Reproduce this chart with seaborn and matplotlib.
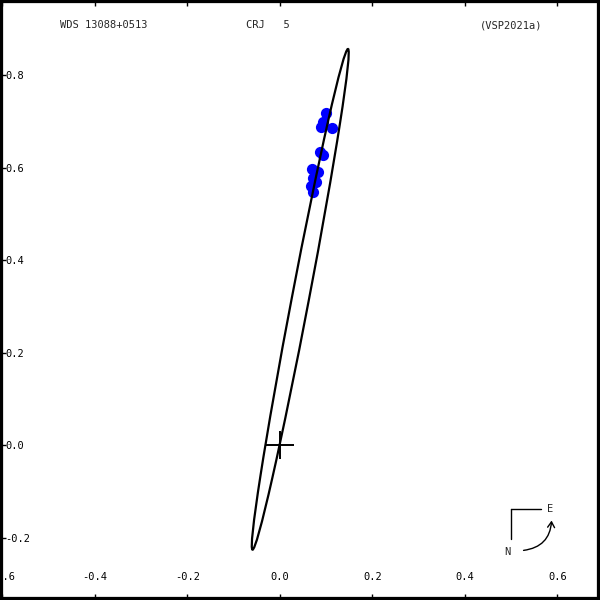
#!/usr/bin/env python3
"""Apparent orbit plot for WDS 13088+0513 (CRJ 5)."""

import matplotlib

matplotlib.use("Agg")
import matplotlib.pyplot as plt
import pandas as pd
import seaborn as sns
from matplotlib.patches import Ellipse, FancyArrowPatch

# observed positions (arcsec, relative to primary)
obs_x = [0.1005, 0.094, 0.1124, 0.0897, 0.0865, 0.094, 0.0692, 0.0811, 0.0724, 0.0681, 0.0724, 0.0789]
obs_y = [0.718, 0.698, 0.686, 0.688, 0.634, 0.627, 0.597, 0.590, 0.577, 0.560, 0.547, 0.569]

# apparent orbit ellipse
orbit_center = (0.0438, 0.315)
orbit_semi_major = 0.551
orbit_semi_minor = 0.0185
orbit_angle = 79.2

x_ticks = [-0.6, -0.4, -0.2, 0.0, 0.2, 0.4, 0.6]
y_ticks = [-0.2, 0.0, 0.2, 0.4, 0.6, 0.8]
x_limits = (-0.6054, 0.6919)
y_limits = (-0.3351, 0.9622)

title_left = "WDS 13088+0513"
title_mid = "CRJ   5"
title_right = "(VSP2021a)"

sns.set_style("white")
plt.rcParams["font.family"] = ["DejaVu Sans Mono", "DejaVu Sans"]
plt.rcParams["axes.unicode_minus"] = False

fig = plt.figure(figsize=(6, 6), dpi=100)
ax = fig.add_axes([0, 0, 1, 1])

df = pd.DataFrame({"x": obs_x, "y": obs_y})
sns.scatterplot(data=df, x="x", y="y", ax=ax, color="#0000ff", s=65,
                edgecolor="#0000ff", linewidth=0, zorder=2)

ax.add_patch(Ellipse(orbit_center, 2 * orbit_semi_major, 2 * orbit_semi_minor,
                     angle=orbit_angle, fill=False, edgecolor="black", linewidth=1.6, zorder=3))
ax.plot([0], [0], marker="+", markersize=20, markeredgewidth=1.4, color="black", zorder=4)

ax.set_xlim(*x_limits)
ax.set_ylim(*y_limits)
ax.set_aspect("auto")
ax.set_xlabel("")
ax.set_ylabel("")

ax.set_xticks(x_ticks)
ax.set_yticks(y_ticks)
ax.set_xticklabels([f"{v:.1f}" for v in x_ticks])
ax.set_yticklabels([f"{v:.1f}" for v in y_ticks])
ax.tick_params(axis="x", which="both", direction="in", length=4, width=1,
               top=True, bottom=True, pad=-20, labelsize=7.5, colors="black")
ax.tick_params(axis="y", which="both", direction="in", length=4, width=1,
               left=True, right=False, pad=-4, labelsize=7.5, colors="black")
for lbl in ax.get_yticklabels():
    lbl.set_horizontalalignment("left")

for spine in ax.spines.values():
    spine.set_linewidth(4.5)
    spine.set_color("black")

ax.text(0.1, 0.958, title_left, transform=ax.transAxes, fontsize=7.5, va="center")
ax.text(0.41, 0.958, title_mid, transform=ax.transAxes, fontsize=7.5, va="center")
ax.text(0.80, 0.958, title_right, transform=ax.transAxes, fontsize=7.5, va="center")

# compass (N down-left, E up-right)
ax.plot([0.8512, 0.9012], [0.1512, 0.1512], transform=ax.transAxes, color="black", lw=1)
ax.plot([0.8512, 0.8512], [0.1512, 0.1012], transform=ax.transAxes, color="black", lw=1)
ax.text(0.9167, 0.1512, "E", transform=ax.transAxes, fontsize=7.5, ha="center", va="center")
ax.text(0.8455, 0.0805, "N", transform=ax.transAxes, fontsize=7.5, ha="center", va="center")
ax.add_patch(FancyArrowPatch((0.868, 0.0822), (0.9195, 0.137), transform=ax.transAxes,
                             connectionstyle="arc3,rad=0.45", arrowstyle="->,head_length=4,head_width=2.5",
                             color="black", lw=1))

fig.savefig("out.png", dpi=100)
plt.close(fig)
